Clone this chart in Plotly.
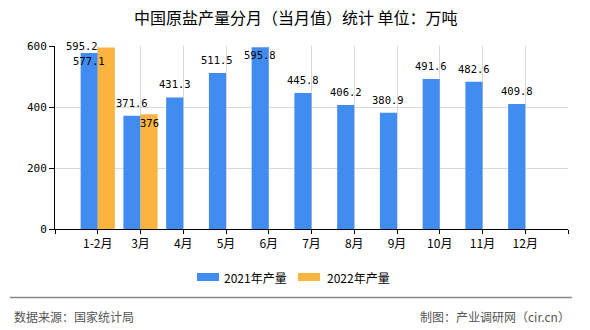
import plotly.graph_objects as go

categories = ["1-2月", "3月", "4月", "5月", "6月", "7月", "8月", "9月", "10月", "11月", "12月"]
values_2021 = [577.1, 371.6, 431.3, 511.5, 595.8, 445.8, 406.2, 380.9, 491.6, 482.6, 409.8]
values_2022 = [595.2, 376, None, None, None, None, None, None, None, None, None]
series_names = ["2021年产量", "2022年产量"]
colors = ["#418CF0", "#FCB441"]
y_ticks = [0, 200, 400, 600]

W, H = 590, 330
L, R, T, B = 55, 22, 46, 101
PW, PH = W - L - R, H - T - B

def px(x):
    return (x - L) / PW

def py(y):
    return (H - B - y) / PH

positions = list(range(1, len(categories) + 1))
num_font = dict(family="DejaVu Sans Mono, Liberation Mono, monospace", size=10.5, color="#000000")

fig = go.Figure()
fig.add_trace(go.Bar(x=positions, y=values_2021, name=series_names[0],
                     marker=dict(color=colors[0], line=dict(width=0)), offsetgroup="a"))
fig.add_trace(go.Bar(x=positions, y=values_2022, name=series_names[1],
                     marker=dict(color=colors[1], line=dict(width=0)), offsetgroup="b"))

annotations = []
# 2021 labels (placed inside the bar top when there is no room above)
for i, (p, v) in enumerate(zip(positions, values_2021)):
    inside = v > 560
    annotations.append(dict(x=p - 0.2, y=v, text=f"{v}", showarrow=False, xref="x", yref="y",
                            yanchor="middle", yshift=(-8 if inside else 13), font=num_font))
# 2022 labels
for i, (p, v) in enumerate(zip(positions, values_2022)):
    if v is None:
        continue
    if i == 0:
        annotations.append(dict(x=p + 0.2, y=v, text=f"{v}", showarrow=False, xref="x", yref="y",
                                yanchor="middle", yshift=1, xshift=-24, font=num_font))
    else:
        annotations.append(dict(x=p + 0.2, y=v, text=f"{v}", showarrow=False, xref="x", yref="y",
                                yanchor="middle", yshift=-9, font=num_font))

# Title
annotations.append(dict(x=px(296), y=py(17), xref="paper", yref="paper", showarrow=False,
                        text="中国原盐产量分月（当月值）统计 单位：万吨",
                        font=dict(family="Noto Sans CJK SC", size=16, color="#000000"),
                        xanchor="center", yanchor="middle"))

# Legend (custom)
shapes = []
leg = [(197, 222), (298, 325)]
for (sx, tx), name, c in zip(leg, series_names, colors):
    shapes.append(dict(type="rect", xref="paper", yref="paper", x0=px(sx), x1=px(sx + 22),
                       y0=py(281), y1=py(273), fillcolor=c, line=dict(width=0)))
    annotations.append(dict(x=px(tx), y=py(277), xref="paper", yref="paper", showarrow=False,
                            text=name, xanchor="left", yanchor="middle",
                            font=dict(family="Noto Sans CJK SC", size=12, color="#000000")))

# Footer
shapes.append(dict(type="line", xref="paper", yref="paper", x0=px(10), x1=px(572),
                   y0=py(297.5), y1=py(297.5), line=dict(color="#888888", width=1.5)))
annotations.append(dict(x=px(12), y=py(316), xref="paper", yref="paper", showarrow=False,
                        text="数据来源：国家统计局", xanchor="left", yanchor="middle",
                        font=dict(family="Noto Sans CJK SC", size=12, color="#555555")))
annotations.append(dict(x=px(572), y=py(316), xref="paper", yref="paper", showarrow=False,
                        text="制图：产业调研网（cir.cn）", xanchor="right", yanchor="middle",
                        font=dict(family="Noto Sans CJK SC", size=12, color="#555555")))

tickvals = list(range(0, len(categories) + 2))
ticktext = [""] + categories + [""]

fig.update_layout(
    width=W, height=H,
    margin=dict(l=L, r=R, t=T, b=B, pad=0),
    paper_bgcolor="white", plot_bgcolor="white",
    barmode="group", bargap=0.2, bargroupgap=0,
    showlegend=False,
    annotations=annotations, shapes=shapes,
    xaxis=dict(range=[0, len(categories) + 1], tickmode="array", tickvals=tickvals, ticktext=ticktext,
               showgrid=True, gridcolor="#D9D9D9", gridwidth=1,
               showline=True, linecolor="#000000", linewidth=1,
               ticks="outside", ticklen=4, tickcolor="#000000",
               tickfont=dict(family="Noto Sans CJK SC", size=12, color="#000000"),
               zeroline=False, fixedrange=True),
    yaxis=dict(range=[0, 600], tickmode="array", tickvals=y_ticks,
               showgrid=True, gridcolor="#D9D9D9", gridwidth=1,
               showline=True, linecolor="#000000", linewidth=1,
               ticks="outside", ticklen=5, tickcolor="#000000",
               tickfont=num_font | dict(size=11),
               zeroline=False, fixedrange=True),
)

fig.write_html("out.html")
